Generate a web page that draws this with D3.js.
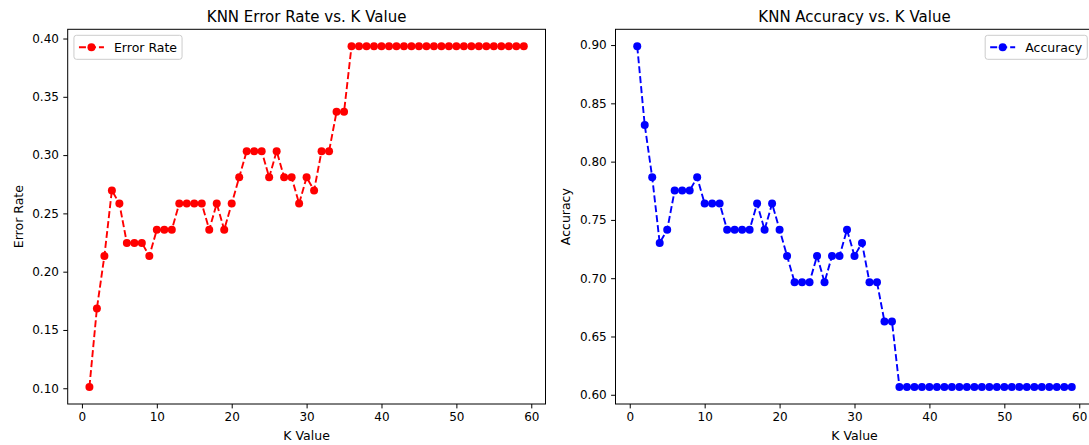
<!DOCTYPE html>
<html>
<head>
<meta charset="utf-8">
<script src="https://cdn.jsdelivr.net/npm/d3@7"></script>
<style>
  body { margin: 0; background: #fff; overflow: hidden; }
  text { font-family: "DejaVu Sans", sans-serif; fill: #000; }
</style>
</head>
<body>
<div id="chart"></div>
<script>
// K values tested
const kValues = [1, 2, 3, 4, 5, 6, 7, 8, 9, 10, 11, 12, 13, 14, 15, 16, 17, 18, 19, 20,
    21, 22, 23, 24, 25, 26, 27, 28, 29, 30, 31, 32, 33, 34, 35, 36, 37, 38, 39, 40,
    41, 42, 43, 44, 45, 46, 47, 48, 49, 50, 51, 52, 53, 54, 55, 56, 57, 58, 59];

// error rate per K
const errorRate = [0.1011, 0.1685, 0.2135, 0.2697, 0.2584, 0.2247, 0.2247, 0.2247, 0.2135, 0.2360,
    0.2360, 0.2360, 0.2584, 0.2584, 0.2584, 0.2584, 0.2360, 0.2584, 0.2360, 0.2584,
    0.2809, 0.3034, 0.3034, 0.3034, 0.2809, 0.3034, 0.2809, 0.2809, 0.2584, 0.2809,
    0.2697, 0.3034, 0.3034, 0.3371, 0.3371, 0.3933, 0.3933, 0.3933, 0.3933, 0.3933,
    0.3933, 0.3933, 0.3933, 0.3933, 0.3933, 0.3933, 0.3933, 0.3933, 0.3933, 0.3933,
    0.3933, 0.3933, 0.3933, 0.3933, 0.3933, 0.3933, 0.3933, 0.3933, 0.3933];

// accuracy per K
const accuracy = [0.8989, 0.8315, 0.7865, 0.7303, 0.7416, 0.7753, 0.7753, 0.7753, 0.7865, 0.7640,
    0.7640, 0.7640, 0.7416, 0.7416, 0.7416, 0.7416, 0.7640, 0.7416, 0.7640, 0.7416,
    0.7191, 0.6966, 0.6966, 0.6966, 0.7191, 0.6966, 0.7191, 0.7191, 0.7416, 0.7191,
    0.7303, 0.6966, 0.6966, 0.6629, 0.6629, 0.6067, 0.6067, 0.6067, 0.6067, 0.6067,
    0.6067, 0.6067, 0.6067, 0.6067, 0.6067, 0.6067, 0.6067, 0.6067, 0.6067, 0.6067,
    0.6067, 0.6067, 0.6067, 0.6067, 0.6067, 0.6067, 0.6067, 0.6067, 0.6067];

// tick labels
const xTicks = [0, 10, 20, 30, 40, 50, 60];
const errorTicks = [0.10, 0.15, 0.20, 0.25, 0.30, 0.35, 0.40];
const accuracyTicks = [0.60, 0.65, 0.70, 0.75, 0.80, 0.85, 0.90];

const svg = d3.select('#chart')
    .append('svg')
    .attr('width', 1089)
    .attr('height', 445);

// matplotlib-like autoscale: 5% margin on each side
function padded(values) {
    const [lo, hi] = d3.extent(values);
    const m = (hi - lo) * 0.05;
    return [lo - m, hi + m];
}

function drawPanel(opts) {
    const { left, top, width, height } = opts;
    const g = svg.append('g').attr('transform', `translate(${left}, ${top})`);

    const x = d3.scaleLinear().domain(padded(kValues)).range([0, width]);
    const y = d3.scaleLinear().domain(padded(opts.values)).range([height, 0]);

    // axes
    const xAxis = g.append('g')
        .attr('transform', `translate(0, ${height})`)
        .call(d3.axisBottom(x).tickValues(xTicks).tickFormat(d3.format('d'))
            .tickSize(4.4).tickPadding(4.4).tickSizeOuter(0));
    const yAxis = g.append('g')
        .call(d3.axisLeft(y).tickValues(opts.ticks).tickFormat(d3.format('.2f'))
            .tickSize(4.4).tickPadding(4.4).tickSizeOuter(0));
    [xAxis, yAxis].forEach(a => {
        a.select('.domain').remove();
        a.selectAll('.tick line').attr('stroke', '#000').attr('stroke-width', 1);
        a.selectAll('.tick text').style('font-size', '12px').style('font-family', '"DejaVu Sans", sans-serif').attr('fill', '#000');
    });

    // line + markers
    const pts = kValues.map((k, i) => [k, opts.values[i]]);
    g.append('path')
        .datum(pts)
        .attr('fill', 'none')
        .attr('stroke', opts.color)
        .attr('stroke-width', 1.9)
        .attr('stroke-dasharray', '7,3')
        .attr('d', d3.line().x(d => x(d[0])).y(d => y(d[1])));

    g.selectAll('circle.pt')
        .data(pts)
        .join('circle')
        .attr('class', 'pt')
        .attr('cx', d => x(d[0]))
        .attr('cy', d => y(d[1]))
        .attr('r', 4)
        .attr('fill', opts.color);

    // spines
    g.append('rect')
        .attr('width', width)
        .attr('height', height)
        .attr('fill', 'none')
        .attr('stroke', '#000')
        .attr('stroke-width', 1);

    // title and labels
    g.append('text')
        .attr('x', width / 2)
        .attr('y', -7)
        .attr('text-anchor', 'middle')
        .style('font-size', '15px')
        .text(opts.title);

    g.append('text')
        .attr('x', width / 2)
        .attr('y', height + 36)
        .attr('text-anchor', 'middle')
        .style('font-size', '12.5px')
        .text('K Value');

    g.append('text')
        .attr('transform', `translate(${opts.ylabelX}, ${height / 2}) rotate(-90)`)
        .attr('text-anchor', 'middle')
        .style('font-size', '12.5px')
        .text(opts.ylabel);

    // legend
    const lg = g.append('g');
    const label = lg.append('text')
        .style('font-size', '12.5px')
        .text(opts.ylabel);
    const textLen = label.node().getComputedTextLength();
    const boxW = 5 + 25 + 10 + textLen + 5;
    const boxH = 24;
    const bx = opts.legendRight ? width - 6.25 - boxW : 6.25;
    const by = 6;
    lg.insert('rect', 'text')
        .attr('x', bx)
        .attr('y', by)
        .attr('width', boxW)
        .attr('height', boxH)
        .attr('rx', 2.5)
        .attr('fill', 'rgba(255,255,255,0.8)')
        .attr('stroke', '#cccccc')
        .attr('stroke-width', 1);
    lg.insert('line', 'text')
        .attr('x1', bx + 5).attr('x2', bx + 30)
        .attr('y1', by + boxH / 2).attr('y2', by + boxH / 2)
        .attr('stroke', opts.color)
        .attr('stroke-width', 1.9)
        .attr('stroke-dasharray', '7,3');
    lg.insert('circle', 'text')
        .attr('cx', bx + 17.5)
        .attr('cy', by + boxH / 2)
        .attr('r', 4)
        .attr('fill', opts.color);
    label.attr('x', bx + 40).attr('y', by + boxH / 2 + 4.5);
}

drawPanel({
    left: 67.7, top: 29.3, width: 477.8, height: 374.7,
    values: errorRate, ticks: errorTicks, color: '#ff0000',
    title: 'KNN Error Rate vs. K Value', ylabel: 'Error Rate',
    ylabelX: -44.5, legendRight: false
});

drawPanel({
    left: 615.5, top: 29.3, width: 478, height: 374.7,
    values: accuracy, ticks: accuracyTicks, color: '#0000ff',
    title: 'KNN Accuracy vs. K Value', ylabel: 'Accuracy',
    ylabelX: -46, legendRight: true
});
</script>
</body>
</html>
